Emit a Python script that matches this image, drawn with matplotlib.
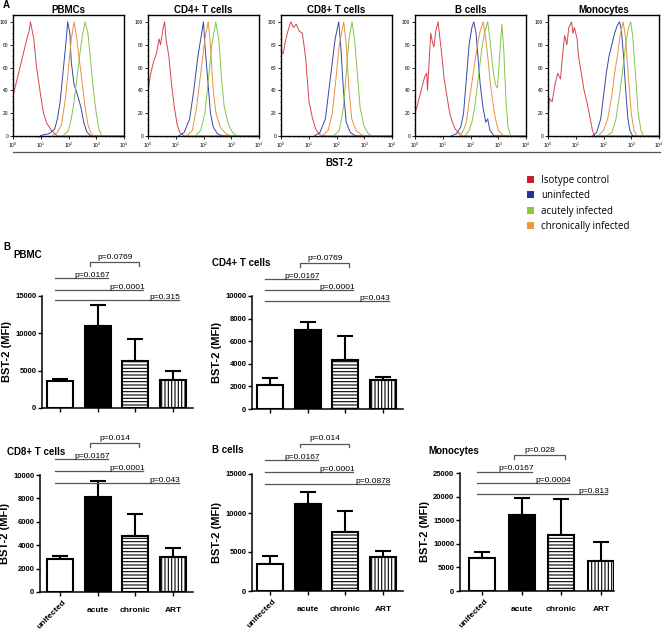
import matplotlib
matplotlib.use('Agg')
import matplotlib.pyplot as plt
from matplotlib.patches import Patch
import matplotlib.transforms as mtransforms
from matplotlib.lines import Line2D
import numpy as np

plt.rcParams['font.family'] = ['Liberation Sans', 'DejaVu Sans']
plt.rcParams['hatch.linewidth'] = 0.8

# ---- panel A: flow histograms (x = log10 BST-2, y = % of max) ----
hist_titles = ['PBMCs', 'CD4+ T cells', 'CD8+ T cells', 'B cells', 'Monocytes']

pbmc_hist = {
    'iso': [(0, 35), (0.1, 45), (0.2, 55), (0.3, 65), (0.4, 75), (0.5, 85), (0.58, 92), (0.63, 100),
            (0.75, 85), (0.85, 60), (1.0, 35), (1.1, 20), (1.2, 12), (1.35, 6), (1.5, 2), (1.6, 0)],
    'uninf': [(1.0, 0.5), (1.3, 2), (1.5, 6), (1.6, 15), (1.7, 30), (1.8, 55), (1.9, 80), (1.97, 100),
              (2.05, 90), (2.1, 65), (2.2, 45), (2.3, 38), (2.45, 25), (2.55, 12), (2.65, 4), (2.8, 0)],
    'acute': [(1.8, 0), (2.0, 5), (2.1, 15), (2.2, 30), (2.3, 50), (2.4, 70), (2.5, 88), (2.6, 100),
              (2.7, 90), (2.8, 65), (2.9, 40), (3.0, 20), (3.1, 6), (3.2, 0)],
    'chronic': [(1.4, 0), (1.6, 3), (1.75, 10), (1.9, 35), (2.0, 60), (2.1, 85), (2.2, 100), (2.3, 85),
                (2.4, 65), (2.5, 45), (2.6, 25), (2.7, 10), (2.8, 3), (2.9, 0)],
}
cd4_hist = {
    'iso': [(0, 40), (0.1, 55), (0.2, 65), (0.3, 72), (0.4, 85), (0.45, 80), (0.55, 95), (0.6, 100),
            (0.65, 85), (0.75, 70), (0.85, 45), (0.95, 25), (1.05, 10), (1.15, 3), (1.3, 0)],
    'uninf': [(1.1, 0), (1.3, 3), (1.5, 15), (1.65, 40), (1.8, 70), (1.9, 85), (2.0, 100), (2.05, 80),
              (2.15, 50), (2.25, 20), (2.35, 8), (2.5, 2), (2.7, 0)],
    'acute': [(1.7, 0), (1.9, 5), (2.05, 20), (2.2, 55), (2.3, 80), (2.44, 100), (2.55, 85), (2.65, 50),
              (2.75, 25), (2.9, 10), (3.05, 3), (3.2, 0)],
    'chronic': [(1.4, 0), (1.6, 5), (1.75, 25), (1.9, 55), (2.05, 85), (2.17, 100), (2.25, 80),
                (2.35, 40), (2.45, 20), (2.6, 8), (2.8, 2), (3.0, 0)],
}
cd8_hist = {
    'iso': [(0, 75), (0.08, 72), (0.15, 82), (0.25, 92), (0.35, 100), (0.45, 95), (0.55, 98), (0.65, 92),
            (0.77, 90), (0.89, 68), (1.01, 30), (1.13, 16), (1.25, 6), (1.4, 1), (1.6, 0)],
    'uninf': [(1.2, 0), (1.4, 3), (1.6, 15), (1.75, 45), (1.85, 65), (1.95, 85), (2.08, 100), (2.15, 80),
              (2.25, 40), (2.35, 12), (2.5, 3), (2.7, 0)],
    'acute': [(1.9, 0), (2.1, 5), (2.25, 25), (2.35, 55), (2.45, 85), (2.56, 100), (2.65, 85), (2.75, 55),
              (2.85, 25), (3.0, 8), (3.15, 2), (3.3, 0)],
    'chronic': [(1.5, 0), (1.7, 5), (1.85, 20), (2.0, 55), (2.1, 80), (2.26, 100), (2.35, 80), (2.45, 40),
                (2.55, 15), (2.7, 5), (2.9, 1), (3.1, 0)],
}
bcell_hist = {
    'iso': [(0, 20), (0.1, 28), (0.2, 38), (0.35, 52), (0.42, 55), (0.45, 40), (0.52, 70), (0.57, 90),
            (0.63, 82), (0.68, 78), (0.75, 92), (0.83, 100), (0.9, 85), (0.97, 70), (1.05, 50), (1.15, 35),
            (1.25, 20), (1.35, 12), (1.45, 6), (1.55, 3), (1.7, 0)],
    'uninf': [(1.3, 0), (1.5, 2), (1.65, 8), (1.75, 20), (1.85, 50), (1.95, 80), (2.05, 95), (2.12, 100),
              (2.2, 90), (2.25, 75), (2.35, 45), (2.45, 25), (2.55, 12), (2.62, 15), (2.7, 5), (2.85, 0)],
    'acute': [(1.8, 0), (1.95, 5), (2.05, 12), (2.15, 25), (2.3, 55), (2.4, 75), (2.5, 90), (2.62, 100),
              (2.7, 85), (2.8, 60), (2.9, 45), (2.97, 42), (3.05, 70), (3.13, 98), (3.2, 75), (3.28, 30),
              (3.35, 8), (3.45, 0)],
    'chronic': [(1.6, 0), (1.75, 5), (1.85, 12), (1.95, 30), (2.1, 55), (2.25, 80), (2.35, 92), (2.46, 100),
                (2.55, 85), (2.62, 70), (2.7, 50), (2.8, 30), (2.9, 15), (3.0, 5), (3.2, 0)],
}
mono_hist = {
    'iso': [(0, 15), (0.05, 33), (0.15, 30), (0.25, 45), (0.35, 55), (0.45, 50), (0.52, 70), (0.6, 88),
            (0.68, 80), (0.75, 95), (0.85, 100), (0.9, 90), (0.95, 95), (1.05, 85), (1.1, 70), (1.2, 55),
            (1.3, 40), (1.4, 30), (1.5, 18), (1.6, 5), (1.68, 0)],
    'uninf': [(1.6, 0), (1.75, 3), (1.9, 15), (2.0, 35), (2.1, 55), (2.2, 70), (2.3, 80), (2.4, 90),
              (2.5, 97), (2.58, 100), (2.65, 92), (2.72, 70), (2.8, 40), (2.88, 15), (2.95, 5), (3.05, 0)],
    'acute': [(2.1, 0), (2.3, 3), (2.45, 15), (2.6, 40), (2.7, 60), (2.8, 80), (2.9, 95), (2.98, 100),
              (3.05, 88), (3.15, 55), (3.25, 20), (3.35, 5), (3.45, 0)],
    'chronic': [(1.8, 0), (2.0, 5), (2.15, 15), (2.3, 35), (2.4, 55), (2.5, 70), (2.6, 88), (2.71, 100),
                (2.8, 85), (2.9, 50), (3.0, 20), (3.1, 5), (3.2, 0)],
}
hists = [pbmc_hist, cd4_hist, cd8_hist, bcell_hist, mono_hist]

legend_labels = ['Isotype control', 'uninfected', 'acutely infected', 'chronically infected']

# ---- panel B: BST-2 MFI bars ----
groups = ['unifected', 'acute', 'chronic', 'ART']
pbmc_mean = [3600, 11000, 6300, 3700]
pbmc_top = [3900, 13800, 9200, 4900]
cd4_mean = [2100, 7000, 4350, 2550]
cd4_top = [2750, 7700, 6500, 2850]
cd8_mean = [2850, 8100, 4750, 2950]
cd8_top = [3100, 9500, 6650, 3750]
bcell_mean = [3400, 11200, 7600, 4300]
bcell_top = [4500, 12700, 10300, 5100]
mono_mean = [7000, 16000, 11900, 6400]
mono_top = [8300, 19800, 19400, 10400]

pbmc_p = ['p=0.0769', 'p=0.0167', 'p=0.0001', 'p=0.315']
cd4_p = ['p=0.0769', 'p=0.0167', 'p=0.0001', 'p=0.043']
cd8_p = ['p=0.014', 'p=0.0167', 'p=0.0001', 'p=0.043']
bcell_p = ['p=0.014', 'p=0.0167', 'p=0.0001', 'p=0.0878']
mono_p = ['p=0.028', 'p=0.0167', 'p=0.0004', 'p=0.813']

W, H = 664, 631
fig = plt.figure(figsize=(W / 100, H / 100), dpi=100)


def px_box(l, t, r, b):
    return [l / W, 1 - b / H, (r - l) / W, (b - t) / H]


hist_colors = {'iso': '#d8434b', 'uninf': '#3848a3', 'acute': '#84c44a', 'chronic': '#e8923c'}
hist_lefts = [13, 148, 281, 415, 548]
for left, title, h in zip(hist_lefts, hist_titles, hists):
    ax = fig.add_axes(px_box(left, 15, left + 111, 136))
    for key in ['iso', 'uninf', 'acute', 'chronic']:
        pts = h[key]
        lx = [pts[0][0]] + [p[0] for p in pts] + [4]
        yy = [0] + [p[1] for p in pts] + [0]
        ax.plot(10 ** np.array(lx), yy, color=hist_colors[key], lw=0.7)
    ax.set_xscale('log')
    ax.set_xlim(1, 1e4)
    ax.set_ylim(0, 106)
    ax.set_yticks([0, 20, 40, 60, 80, 100])
    ax.set_yticks(np.arange(0, 101, 5), minor=True)
    ax.tick_params(labelsize=3.5, length=2, width=0.6, pad=1.5)
    ax.tick_params(which='minor', length=1, width=0.4)
    for s in ax.spines.values():
        s.set_linewidth(1.0)
    ax.set_title(title, fontsize=7, fontweight='bold', pad=1.5)

fig.add_artist(Line2D([13 / W, 660 / W], [1 - 152 / H] * 2, color='#555555', lw=0.9))
fig.text(339 / W, 1 - 163 / H, 'BST-2', fontsize=7, fontweight='bold', ha='center', va='center')
fig.text(3 / W, 1 - 5 / H, 'A', fontsize=7, fontweight='bold', ha='left', va='center')
fig.text(3 / W, 1 - 247 / H, 'B', fontsize=7, fontweight='bold', ha='left', va='center')

handles = [Patch(facecolor=c, edgecolor='none') for c in
           ['#c8202f', '#2e3192', '#8dc63f', '#e89b3c']]
fig.legend(handles, legend_labels, loc='upper left', bbox_to_anchor=(522 / W, 1 - 170 / H),
           frameon=False, handlelength=0.7, handleheight=0.7, handletextpad=0.8,
           labelspacing=0.45, borderpad=0, prop={'family': 'Open Sans', 'size': 7})

# bar panels: y-axis px, x-axis end px, top px, bottom px, first tick px, tick spacing px
bar_panels = [
    ('PBMC', pbmc_mean, pbmc_top, pbmc_p, 15000, 5000, (42, 193, 296, 408, 60, 37.7),
     (13, 255), [1.30, 1.16, 1.054, 0.964], False),
    ('CD4+ T cells', cd4_mean, cd4_top, cd4_p, 10000, 2000, (252, 403, 296, 409, 270, 37.7),
     (212, 263), [1.29, 1.15, 1.05, 0.956], False),
    ('CD8+ T cells', cd8_mean, cd8_top, cd8_p, 10000, 2000, (40, 193, 475, 592, 60, 37.7),
     (7, 452), [1.27, 1.137, 1.034, 0.93], True),
    ('B cells', bcell_mean, bcell_top, bcell_p, 15000, 5000, (252, 403, 474, 591, 270, 37.7),
     (212, 450), [1.26, 1.12, 1.017, 0.915], True),
    ('Monocytes', mono_mean, mono_top, mono_p, 25000, 5000, (460, 614, 473, 591, 482, 39.7),
     (428, 451), [1.15, 1.01, 0.915, 0.82], True),
]

faces = ['white', 'black', 'white', 'white']
hatches = [None, None, '-----', '|||||']
x = np.arange(len(groups))
for title, mean, top, pvals, ymax, ystep, geo, tpos, sig_y, show_labels in bar_panels:
    yl, xe, t, b, t0, sp = geo
    ax = fig.add_axes(px_box(yl, t, xe, b))
    ax.set_xlim(-(t0 - yl) / sp, (xe - t0) / sp)
    ax.set_ylim(0, ymax)
    err = [np.zeros(len(mean)), np.array(top) - np.array(mean)]
    ax.errorbar(x, mean, yerr=err, fmt='none', ecolor='black', elinewidth=1.5,
                capsize=6, capthick=1.5, zorder=2)
    for i in range(len(groups)):
        ax.bar(x[i], mean[i], width=26 / sp, color=faces[i], edgecolor='black',
               lw=1.5, hatch=hatches[i], zorder=3)
    ax.spines['top'].set_visible(False)
    ax.spines['right'].set_visible(False)
    for s in ['left', 'bottom']:
        ax.spines[s].set_linewidth(1.1)
    ax.set_yticks(np.arange(0, ymax + 1, ystep))
    ax.set_xticks(x)
    ax.set_xticklabels([])
    ax.tick_params(length=3, width=1, labelsize=5.5, pad=1)
    for lab in ax.get_yticklabels():
        lab.set_fontweight('bold')
    ax.set_ylabel('BST-2 (MFI)', fontsize=8, fontweight='bold', labelpad=2)
    fig.text(tpos[0] / W, 1 - tpos[1] / H, title, fontsize=7, fontweight='bold',
             ha='left', va='center')

    trans = mtransforms.blended_transform_factory(ax.transData, ax.transAxes)
    tick_h = 3.5 / (b - t)
    # bracket acute vs chronic
    by = sig_y[0]
    ax.plot([0.8, 0.8, 2.1, 2.1], [by - tick_h, by, by, by - tick_h], color='#555555',
            lw=0.9, transform=trans, clip_on=False)
    ax.text(1.45, by + 0.01, pvals[0], fontsize=6, ha='center', va='bottom', transform=trans)
    # unifected vs acute / chronic / ART
    for ends, ly, lab in zip([1.27, 2.2, 3.15], sig_y[1:], pvals[1:]):
        ax.plot([-0.13, ends], [ly, ly], color='#555555', lw=0.9, transform=trans, clip_on=False)
        ax.text(ends + 0.05, ly - 0.005, lab, fontsize=6, ha='right', va='bottom', transform=trans)

    if show_labels:
        for i, g in enumerate(groups):
            if i == 0:
                ax.annotate(g, xy=(i, 0), xycoords=('data', 'axes fraction'), xytext=(2, -5),
                            textcoords='offset points', ha='right', va='top', rotation=45,
                            rotation_mode='anchor', fontsize=6, fontweight='bold')
            else:
                ax.annotate(g, xy=(i, 0), xycoords=('data', 'axes fraction'), xytext=(0, -11),
                            textcoords='offset points', ha='center', va='top',
                            fontsize=6, fontweight='bold')

fig.savefig('out.png', dpi=100)
